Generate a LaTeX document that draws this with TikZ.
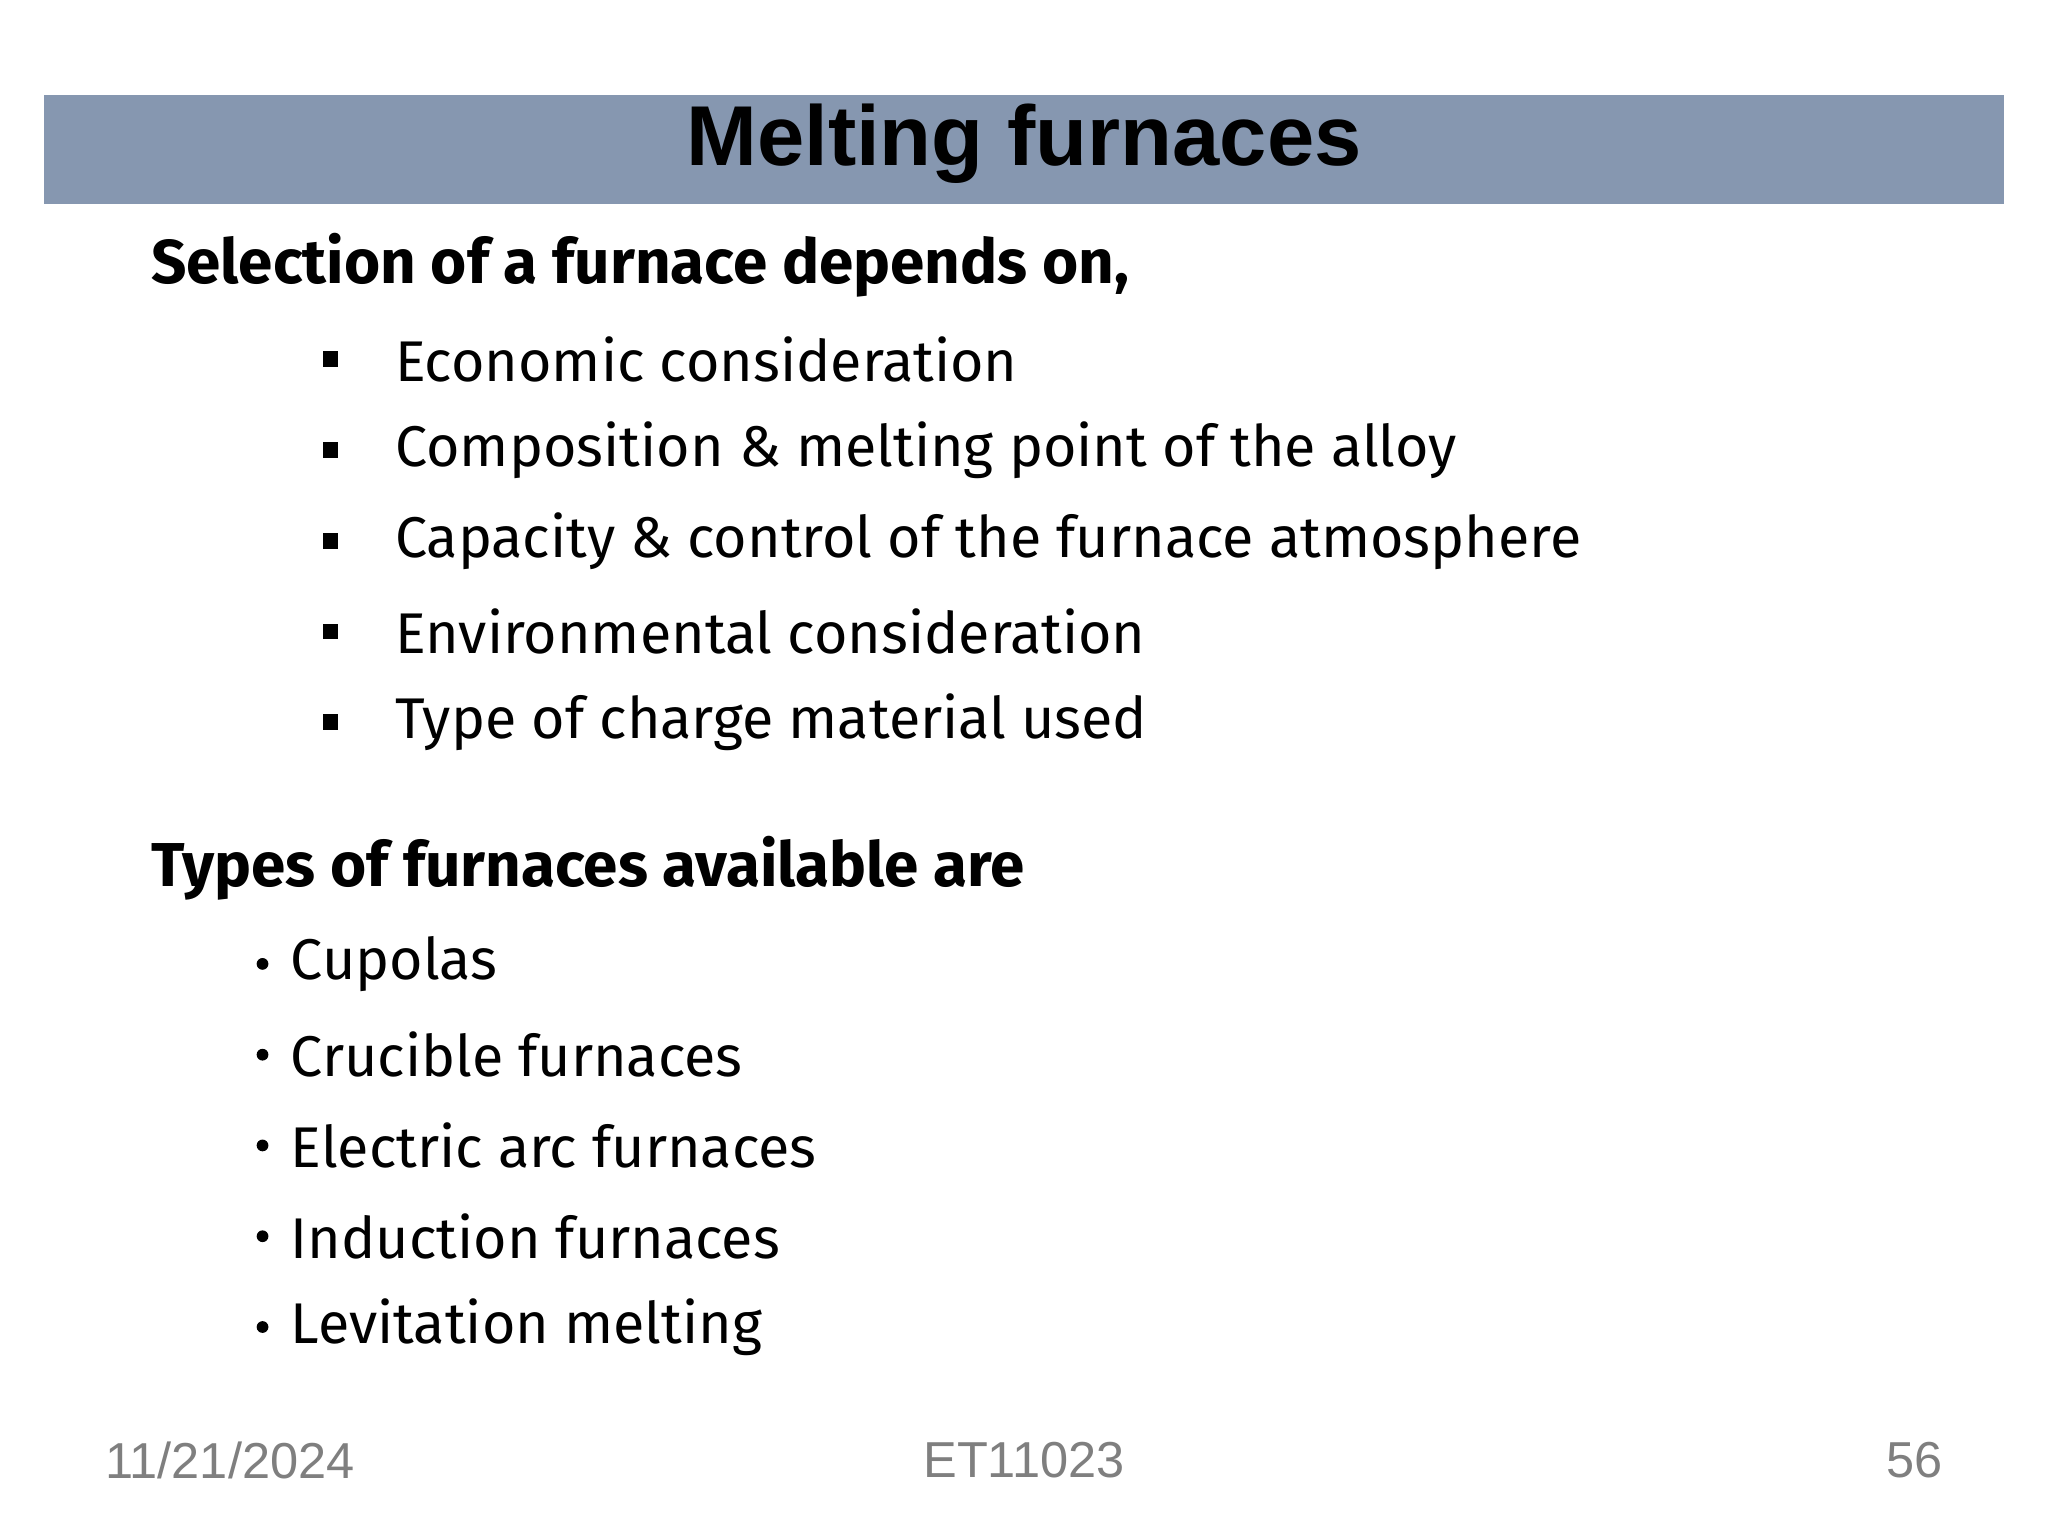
\documentclass[tikz,border=0pt]{standalone}
\usepackage{fontspec}
\setmainfont{Fira Sans}
\newfontfamily\arialf{Liberation Sans}
\definecolor{barc}{HTML}{8697B0}
\definecolor{footc}{HTML}{7F7F7F}
\begin{document}
\begin{tikzpicture}[x=0.01cm,y=-0.01cm,
  head/.style={anchor=west,inner sep=0,font=\fontsize{13.5}{16}\selectfont\bfseries},
  itm/.style={anchor=west,inner sep=0,font=\fontsize{12.5}{15}\selectfont},
  foot/.style={inner sep=0,text=footc,font=\arialf\fontsize{11}{13}\selectfont}]
\useasboundingbox (0,0) rectangle (1568,1176);
\fill[white] (0,0) rectangle (1568,1176);
\fill[barc] (34,73) rectangle (1534,156);
\node[inner sep=0,font=\arialf\bfseries\fontsize{18.5}{22}\selectfont] (title) at (784,110) {Melting furnaces};
\node[head] (h1) at (115,203) {Selection of a furnace depends on,};
\foreach \t [count=\i] in {Economic consideration,Composition \& melting point of the alloy,Capacity \& control of the furnace atmosphere,Environmental consideration,Type of charge material used}{
  \fill (247,{275+69.5*(\i-1)-6}) rectangle ++(12,12);
  \node[itm] (a\i) at (302,{275+69.5*(\i-1)}) {\t};
}
\node[head] (h2) at (115,665) {Types of furnaces available are};
\foreach \t [count=\i] in {Cupolas,Crucible furnaces,Electric arc furnaces,Induction furnaces,Levitation melting}{
  \fill (201,{738+69.5*(\i-1)}) circle (4.5);
  \node[itm] (b\i) at (222,{738+69.5*(\i-1)}) {\t};
}
\node[foot,anchor=west] (d) at (80,1118) {11/21/2024};
\node[foot] (c) at (784,1118) {ET11023};
\node[foot,anchor=east] (p) at (1488,1118) {56};
\end{tikzpicture}
\end{document}
